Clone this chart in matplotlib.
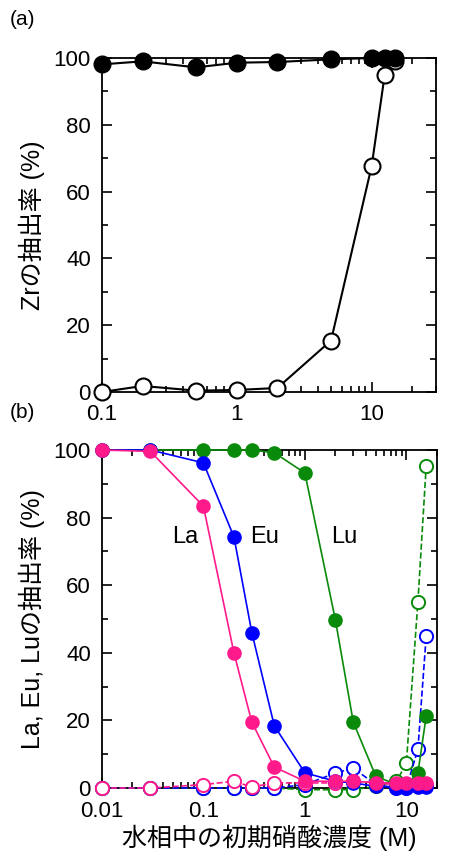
import matplotlib
matplotlib.use("Agg")
from matplotlib import pyplot as plt
from matplotlib.ticker import MultipleLocator, LogLocator, NullFormatter, FixedLocator, FixedFormatter

plt.rcParams["font.family"] = ["Liberation Sans", "Noto Sans CJK JP"]
plt.rcParams["axes.linewidth"] = 1.3

# (a) Zr
zr_x = [0.1, 0.2, 0.5, 1, 2, 5, 10, 12.5, 15]
zr_filled = [98.1, 99.0, 97.2, 98.6, 98.8, 99.6, 100, 100, 100]
zr_open = [0.0, 1.8, 0.4, 0.6, 1.2, 15.4, 67.6, 95.0, 99.0]

# (b) La, Eu, Lu
ln_x = [0.01, 0.03, 0.1, 0.2, 0.3, 0.5, 1, 2, 3, 5, 8, 10, 13, 15.7]
la_filled = [100, 99.6, 83.4, 40.0, 19.5, 6.2, 2.0, 2.0, 2.0, 1.6, 1.5, 1.5, 1.5, 1.5]
eu_filled = [100, 100, 96.2, 74.3, 46.0, 18.4, 4.5, 2.0, 1.5, 0.5, 0.3, 0.3, 0.3, 0.3]
lu_filled = [100, 100, 100, 100, 100, 99.2, 93.2, 49.7, 19.5, 3.5, 1.0, 1.0, 4.4, 21.3]
la_open = [0.0, 0.0, 1.0, 2.0, 0.3, 1.5, 1.5, 1.5, 2.0, 1.5, 1.0, 1.0, 1.0, 1.0]
eu_open = [0.0, 0.0, 0.0, 0.0, 0.0, 0.0, 1.0, 4.4, 5.9, 1.0, 0.0, 0.0, 11.5, 45.0]
lu_open = [0.0, 0.0, 0.0, 0.0, 0.0, 0.0, -0.5, -0.5, -0.5, 0.5, 2.0, 7.3, 55.0, 95.3]

pink = "#ff1a8c"
blue = "#0000ff"
green = "#0a8a0a"

fig = plt.figure(figsize=(4.49, 8.57), dpi=100)
ax1 = fig.add_axes([0.227, 0.5426, 0.744, 0.3897])
ax2 = fig.add_axes([0.227, 0.0805, 0.746, 0.3944])


def style_axis(ax):
    ax.set_xscale("log")
    ax.set_ylim(0, 100)
    ax.yaxis.set_major_locator(MultipleLocator(20))
    ax.yaxis.set_minor_locator(MultipleLocator(10))
    ax.xaxis.set_minor_locator(LogLocator(base=10, subs=range(2, 10)))
    ax.xaxis.set_minor_formatter(NullFormatter())
    ax.tick_params(which="both", direction="in", top=True, right=True, width=1.2,
                   labelsize=16)
    ax.tick_params(axis="x", which="both", pad=9)
    ax.tick_params(axis="y", which="both", pad=8)
    ax.tick_params(which="major", length=7)
    ax.tick_params(which="minor", length=4)


# panel (a)
ax1.plot(zr_x, zr_open, "-", color="black", lw=1.5, marker="o", ms=11.5,
         mfc="white", mec="black", mew=1.5, clip_on=False, zorder=3)
ax1.plot(zr_x, zr_filled, "-", color="black", lw=1.5, marker="o", ms=12,
         mfc="black", mec="black", clip_on=False, zorder=4)
style_axis(ax1)
ax1.set_xlim(0.1, 30)
ax1.xaxis.set_major_locator(FixedLocator([0.1, 1, 10]))
ax1.xaxis.set_major_formatter(FixedFormatter(["0.1", "1", "10"]))
ax1.set_ylabel("Zrの抽出率 (%)", fontsize=18, labelpad=6)
fig.text(0.022, 0.977, "(a)", fontsize=15, va="center")

# panel (b)
for ys, c in [(lu_open, green), (eu_open, blue), (la_open, pink)]:
    ax2.plot(ln_x, ys, "--", color=c, lw=1.2, marker="o", ms=9.5, mfc="white",
             mec=c, mew=1.4, clip_on=False, zorder=3)
for ys, c in [(lu_filled, green), (eu_filled, blue), (la_filled, pink)]:
    ax2.plot(ln_x, ys, "-", color=c, lw=1.2, marker="o", ms=9.5, mfc=c,
             mec=c, clip_on=False, zorder=4)
style_axis(ax2)
ax2.set_xlim(0.01, 20)
ax2.xaxis.set_major_locator(FixedLocator([0.01, 0.1, 1, 10]))
ax2.xaxis.set_major_formatter(FixedFormatter(["0.01", "0.1", "1", "10"]))
ax2.text(0.067, 74.3, "La", fontsize=17, ha="center", va="center")
ax2.text(0.40, 74.3, "Eu", fontsize=17, ha="center", va="center")
ax2.text(2.45, 74.3, "Lu", fontsize=17, ha="center", va="center")
ax2.set_ylabel("La, Eu, Luの抽出率 (%)", fontsize=18, labelpad=6)
ax2.set_xlabel("水相中の初期硝酸濃度 (M)", fontsize=18, labelpad=2)
fig.text(0.022, 0.519, "(b)", fontsize=15, va="center")

fig.savefig("out.png", dpi=100)
